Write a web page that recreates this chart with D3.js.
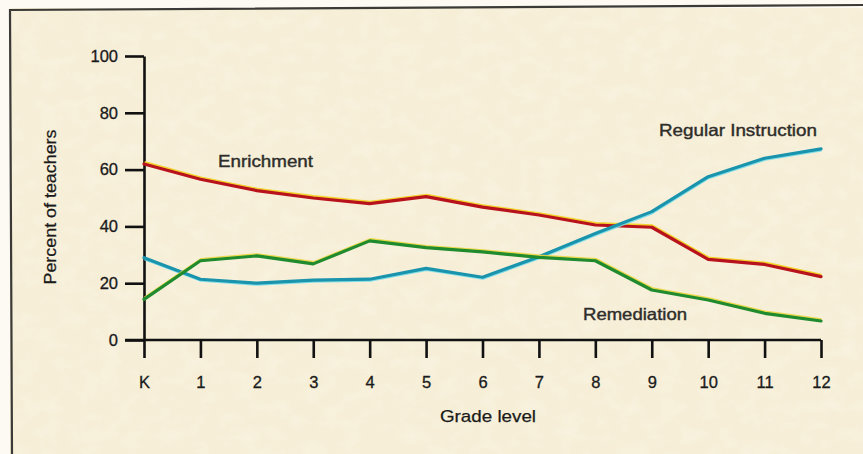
<!DOCTYPE html>
<html>
<head>
<meta charset="utf-8">
<script src="https://cdn.jsdelivr.net/npm/d3@7"></script>
<style>
  html, body { margin: 0; padding: 0; background: #fbf8ee; }
  svg { display: block; }
  text { font-family: "Liberation Sans", Arial, Helvetica, sans-serif; }
</style>
</head>
<body>
<svg id="chart" width="863" height="454"></svg>
<script>
// Grade levels on the horizontal axis
const grades = ["K", "1", "2", "3", "4", "5", "6", "7", "8", "9", "10", "11", "12"];
// Percent of teachers by emphasis, per grade
const enrichment = [62, 56.6, 52.6, 50, 48, 50.5, 46.8, 44, 40.5, 39.7, 28.4, 26.6, 22.3];
const regularInstruction = [29, 21.4, 20, 21.1, 21.4, 25.2, 22.1, 29.3, 37.5, 45.2, 57.5, 64, 67.3];
const remediation = [14.3, 27.9, 29.6, 26.8, 34.9, 32.5, 31, 29.1, 27.9, 17.6, 14.1, 9.4, 6.7];
const yTicks = [0, 20, 40, 60, 80, 100];
const seriesNames = ["Enrichment", "Regular Instruction", "Remediation"];

const svg = d3.select("#chart");
const W = 863, H = 454;

// Paper background with a soft mottled grain
const defs = svg.append("defs");
const f = defs.append("filter").attr("id", "paper").attr("x", 0).attr("y", 0).attr("width", 1).attr("height", 1);
f.append("feTurbulence").attr("type", "fractalNoise").attr("baseFrequency", "0.05 0.07").attr("numOctaves", 3).attr("seed", 7).attr("result", "n");
f.append("feColorMatrix").attr("in", "n").attr("type", "matrix")
  .attr("values", "0 0 0 0 1  0 0 0 0 1  0 0 0 0 1  0 0 0 -1.4 0.85").attr("result", "w");
f.append("feComposite").attr("in", "w").attr("in2", "SourceGraphic").attr("operator", "in");

svg.append("rect").attr("x", 0).attr("y", 0).attr("width", W).attr("height", H).attr("fill", "#fcfaf2");
svg.append("rect").attr("x", 10).attr("y", 8).attr("width", W - 10).attr("height", H - 8).attr("fill", "#f6eed6");
svg.append("rect").attr("x", 10).attr("y", 8).attr("width", W - 10).attr("height", H - 8).attr("fill", "#f6eed6")
  .attr("filter", "url(#paper)").attr("opacity", 0.3);

// Frame (left and top rules)
svg.append("path")
  .attr("d", "M863,5 L10,10 L12,454")
  .attr("fill", "none").attr("stroke", "#3b3a36").attr("stroke-width", 2.2);

// Scales
const x = d3.scalePoint().domain(grades).range([144, 821]);
const y = d3.scaleLinear().domain([0, 100]).range([340, 56]);

// Y axis
const yAxis = svg.append("g").attr("transform", "translate(144,0)")
  .call(d3.axisLeft(y).tickValues(yTicks).tickSize(19).tickPadding(7).tickSizeOuter(0));
yAxis.attr("font-size", null).attr("font-family", null);
yAxis.select(".domain").attr("stroke", "#111").attr("stroke-width", 2.6);
yAxis.selectAll(".tick line").attr("stroke", "#111").attr("stroke-width", 2.6);
yAxis.selectAll(".tick text").style("font-size", "16.5px").attr("fill", "#1a1a1a")
  .attr("stroke", "#1a1a1a").attr("stroke-width", 0.3)
  .style("font-family", "'Liberation Sans', Arial, sans-serif");

// X axis
const xAxis = svg.append("g").attr("transform", "translate(0,340)")
  .call(d3.axisBottom(x).tickSize(18).tickPadding(18).tickSizeOuter(0));
xAxis.attr("font-size", null).attr("font-family", null);
xAxis.select(".domain").attr("stroke", "#111").attr("stroke-width", 2.6)
  .attr("d", `M125,0H${x("12")}`);
xAxis.selectAll(".tick line").attr("stroke", "#111").attr("stroke-width", 2.6);
xAxis.selectAll(".tick text").style("font-size", "16.5px").attr("fill", "#1a1a1a")
  .attr("stroke", "#1a1a1a").attr("stroke-width", 0.3)
  .style("font-family", "'Liberation Sans', Arial, sans-serif");

// Axis titles
svg.append("text").attr("x", 488).attr("y", 422).attr("text-anchor", "middle")
  .style("font-size", "17px").attr("fill", "#1a1a1a").attr("stroke", "#1a1a1a").attr("stroke-width", 0.25)
  .attr("textLength", 96).attr("lengthAdjust", "spacingAndGlyphs").text("Grade level");
svg.append("text").attr("transform", "translate(56,207) rotate(-90)").attr("text-anchor", "middle")
  .style("font-size", "16.5px").attr("fill", "#1a1a1a").attr("stroke", "#1a1a1a").attr("stroke-width", 0.25)
  .attr("textLength", 155).attr("lengthAdjust", "spacingAndGlyphs").text("Percent of teachers");

// Lines: each has a faint offset ink edge under the main stroke
const line = d3.line().x((d, i) => x(grades[i])).y(d => y(d));
const series = [
  { values: enrichment, color: "#b8121c", edge: "#f2cf1a", dy: -1.7 },
  { values: regularInstruction, color: "#1a93ad", edge: "#74dcea", dy: 1.4 },
  { values: remediation, color: "#1f8a2e", edge: "#e8d53a", dy: -1.6 }
];
series.forEach(s => {
  svg.append("path").datum(s.values).attr("d", line)
    .attr("transform", `translate(0.5,${s.dy})`)
    .attr("fill", "none").attr("stroke", s.edge).attr("stroke-width", 2.4)
    .attr("stroke-linejoin", "round").attr("opacity", 0.9);
  svg.append("path").datum(s.values).attr("d", line)
    .attr("fill", "none").attr("stroke", s.color).attr("stroke-width", 3.2)
    .attr("stroke-linejoin", "round").attr("stroke-linecap", "round");
});

// Series labels
const labelPos = [
  { x: 218, y: 167, w: 95 },
  { x: 659, y: 136, w: 158 },
  { x: 583, y: 320, w: 104 }
];
seriesNames.forEach((n, i) => {
  svg.append("text").attr("x", labelPos[i].x).attr("y", labelPos[i].y)
    .style("font-size", "16.5px").attr("fill", "#2e2d2a")
    .attr("stroke", "#2e2d2a").attr("stroke-width", 0.4)
    .attr("textLength", labelPos[i].w).attr("lengthAdjust", "spacingAndGlyphs")
    .text(n);
});
</script>
</body>
</html>
